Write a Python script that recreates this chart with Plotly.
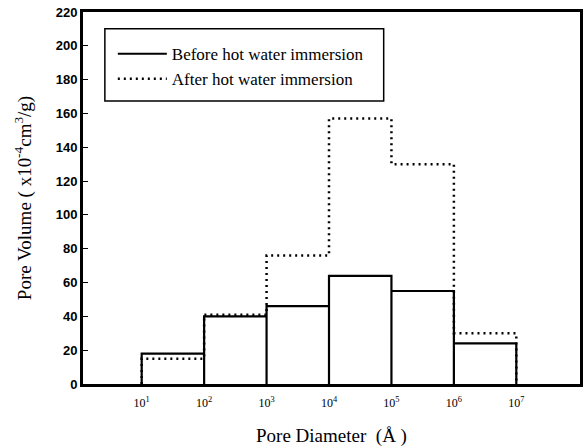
import plotly.graph_objects as go

# Pore diameter bin edges (Å) and pore volume per bin (x10^-4 cm^3/g)
bin_edges = [1e1, 1e2, 1e3, 1e4, 1e5, 1e6, 1e7]
before_volume = [18, 40, 46, 64, 55, 24]
after_volume = [15, 41, 76, 157, 130, 30]
y_ticks = [0, 20, 40, 60, 80, 100, 120, 140, 160, 180, 200, 220]
x_tick_labels = ["10<sup>%d</sup>" % k for k in range(1, 8)]

SERIF = "Liberation Serif, Times New Roman, serif"
SANS = "Liberation Sans, Arial, sans-serif"


def outline_steps(edges, values):
    """Step outline from baseline through each bin top and back to baseline."""
    xs, ys = [edges[0]], [0]
    for i, v in enumerate(values):
        xs += [edges[i], edges[i + 1]]
        ys += [v, v]
    xs.append(edges[-1])
    ys.append(0)
    return xs, ys


def closed_boxes(edges, values):
    """Each bin drawn as its own box standing on the baseline."""
    xs, ys = [], []
    for i, v in enumerate(values):
        xs += [edges[i], edges[i], edges[i + 1], edges[i + 1]]
        ys += [0, v, v, 0]
    return xs, ys


ax, ay = outline_steps(bin_edges, after_volume)
bx, by = closed_boxes(bin_edges, before_volume)

fig = go.Figure()
fig.add_trace(go.Scatter(
    x=ax, y=ay, mode="lines", name="After hot water immersion",
    line=dict(color="black", width=2.5, dash="2px,4px"),
    legendrank=2, legendgroup="after",
))
fig.add_trace(go.Scatter(
    x=bx, y=by, mode="lines", name="Before hot water immersion",
    line=dict(color="black", width=2.2),
    legendrank=1, legendgroup="before",
))

# Legend frame
fig.add_shape(
    type="rect", xref="paper", yref="paper",
    x0=0.044, x1=0.605, y0=0.761, y1=0.955,
    line=dict(color="black", width=1.5), fillcolor="rgba(0,0,0,0)",
)

fig.update_layout(
    width=585, height=448,
    margin=dict(l=83, r=2, t=12, b=64),
    paper_bgcolor="white", plot_bgcolor="white",
    showlegend=True,
    legend=dict(
        x=0.06, y=0.935, xanchor="left", yanchor="top",
        bgcolor="rgba(0,0,0,0)", borderwidth=0,
        font=dict(family=SERIF, size=17, color="black"),
        traceorder="grouped", tracegroupgap=0, itemwidth=49,
    ),
    xaxis=dict(
        type="log", range=[0.06, 8.02],
        tickvals=bin_edges, ticktext=x_tick_labels,
        tickfont=dict(family=SERIF, size=12, color="black"),
        ticks="inside", ticklen=4, tickcolor="black",
        ticklabelstandoff=6,
        showline=True, linecolor="black", linewidth=3, mirror=True,
        showgrid=False, zeroline=False,
        title=dict(text="Pore Diameter  (Å )", standoff=20,
                   font=dict(family=SERIF, size=19, color="black")),
    ),
    yaxis=dict(
        range=[0, 220], tickvals=y_ticks,
        tickfont=dict(family=SANS, size=13, color="black", weight="bold"),
        ticks="inside", ticklen=5, tickcolor="black",
        showline=True, linecolor="black", linewidth=3, mirror=True,
        showgrid=False, zeroline=False,
        title=dict(text="Pore Volume ( x10<sup>-4</sup>cm<sup>3</sup>/g)", standoff=20,
                   font=dict(family=SERIF, size=19, color="black")),
    ),
)

fig.write_html("out.html")
